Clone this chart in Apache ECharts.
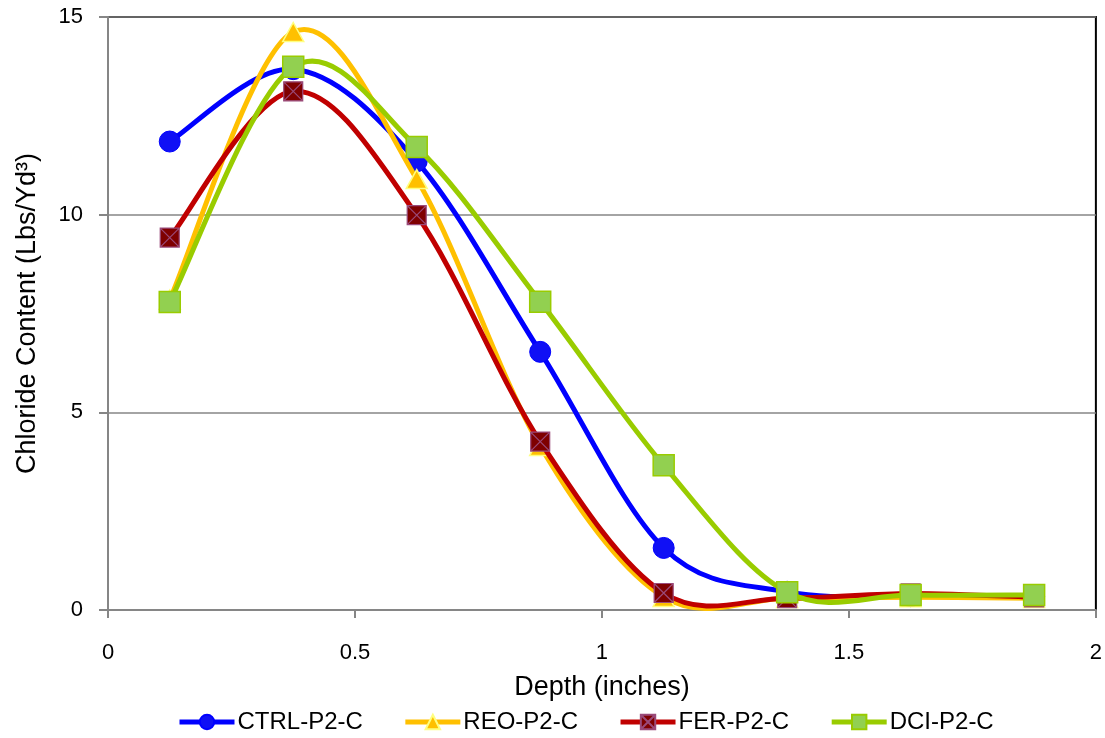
<!DOCTYPE html>
<html>
<head>
<meta charset="utf-8">
<script src="https://cdn.jsdelivr.net/npm/echarts@6/dist/echarts.min.js"></script>
<style>html,body{margin:0;padding:0;background:#fff;}#c{width:1105px;height:738px;}</style>
</head>
<body>
<div id="c"></div>
<script>
const depths = [0.125, 0.375, 0.625, 0.875, 1.125, 1.375, 1.625, 1.875];
const ctrl = [11.85, 13.68, 11.35, 6.53, 1.57, 0.46, 0.35, 0.35];
const reo  = [7.85, 14.62, 10.9, 4.15, 0.33, 0.3, 0.32, 0.3];
const fer  = [9.42, 13.12, 9.99, 4.26, 0.43, 0.3, 0.42, 0.32];
const dci  = [7.79, 13.74, 11.71, 7.8, 3.66, 0.45, 0.38, 0.38];
const seriesNames = ['CTRL-P2-C', 'REO-P2-C', 'FER-P2-C', 'DCI-P2-C'];
const xTicks = [0, 0.5, 1, 1.5, 2];
const yTicks = [0, 5, 10, 15];

function pts(vals){ return depths.map((d,i)=>[d, vals[i]]); }

// Smooth curve (Catmull-Rom style bezier, like spreadsheet "smoothed line"), computed in pixel space
function curveSeries(name, vals, color, z){
  return {
    type:'custom', name: name + ' curve', z: z, silent: true,
    coordinateSystem:'cartesian2d', data: [[depths[0], vals[0]]],
    clip: false,
    renderItem: function(params, api){
      const p = depths.map((d,i)=>api.coord([d, vals[i]]));
      const n = p.length;
      let d = 'M' + p[0][0] + ',' + p[0][1];
      for (let i = 0; i < n - 1; i++){
        const p0 = p[i-1] || p[i], p1 = p[i], p2 = p[i+1], p3 = p[i+2] || p[i+1];
        const c1x = p1[0] + (p2[0]-p0[0])/6, c1y = p1[1] + (p2[1]-p0[1])/6;
        const c2x = p2[0] - (p3[0]-p1[0])/6, c2y = p2[1] - (p3[1]-p1[1])/6;
        d += ' C' + c1x + ',' + c1y + ' ' + c2x + ',' + c2y + ' ' + p2[0] + ',' + p2[1];
      }
      return {type:'path', shape:{pathData:d}, style:{stroke:color, lineWidth:5, fill:null, lineJoin:'round', lineCap:'round'}};
    }
  };
}

const colors = {ctrl:'#0000FF', reo:'#FFC000', fer:'#C00000', dci:'#99CC00'};

const chart = echarts.init(document.getElementById('c'), null, {renderer:'canvas'});
chart.setOption({
  animation: false,
  backgroundColor: '#fff',
  grid: {left:108, right:9, top:17, bottom:128, show:true, borderColor:'#000', borderWidth:2, backgroundColor:'transparent'},
  legend: {
    top: 705, left: 172, itemWidth: 55, itemHeight: 18, itemGap: 40,
    lineStyle: {width: 5, opacity: 1},
    textStyle: {fontFamily:'Liberation Sans, Arial', fontSize:24, color:'#000', padding:[0,0,0,-2]},
    data: seriesNames
  },
  xAxis: {
    type:'value', min:0, max:2, interval:0.5,
    name:'Depth (inches)', nameLocation:'middle', nameGap:64,
    nameTextStyle:{fontFamily:'Liberation Sans, Arial', fontSize:27, color:'#000'},
    axisLine:{lineStyle:{color:'#868686', width:2}},
    axisTick:{show:true, inside:false, length:8, lineStyle:{color:'#868686', width:2}},
    axisLabel:{fontFamily:'Liberation Sans, Arial', fontSize:22, color:'#000', margin:32,
      formatter: v => xTicks.includes(v) ? String(v) : ''},
    splitLine:{show:false}
  },
  yAxis: {
    type:'value', min:0, max:15, interval:5,
    name:'Chloride Content (Lbs/Yd\u00B3)', nameLocation:'middle', nameGap:67,
    nameTextStyle:{fontFamily:'Liberation Sans, Arial', fontSize:27, color:'#000'},
    axisLine:{show:true, lineStyle:{color:'#868686', width:2}},
    axisTick:{show:true, inside:false, length:9, lineStyle:{color:'#868686', width:2}},
    axisLabel:{fontFamily:'Liberation Sans, Arial', fontSize:22, color:'#000', margin:25,
      formatter: v => yTicks.includes(v) ? String(v) : ''},
    splitLine:{show:true, lineStyle:{color:'#868686', width:1.5}}
  },
  series: [
    {name:seriesNames[0], type:'line', data:pts(ctrl), z:2,
     symbol:'circle', symbolSize:21,
     lineStyle:{color:colors.ctrl, width:5, opacity:0},
     itemStyle:{color:'#1010F5', borderColor:'#0000FF', borderWidth:1}},
    {name:seriesNames[1], type:'line', data:pts(reo), z:4,
     symbol:'triangle', symbolSize:[21,19],
     lineStyle:{color:colors.reo, width:5, opacity:0},
     itemStyle:{color:'#FFC000', borderColor:'#FFFF80', borderWidth:1.5}},
    {name:seriesNames[2], type:'line', data:pts(fer), z:6,
     symbol:'path://M0,0 L10,0 L10,10 L0,10 Z M0,0 L10,10 M10,0 L0,10', symbolSize:19,
     lineStyle:{color:colors.fer, width:5, opacity:0},
     itemStyle:{color:'#7F0000', borderColor:'#9A4A7A', borderWidth:1.2}},
    {name:seriesNames[3], type:'line', data:pts(dci), z:8,
     symbol:'rect', symbolSize:21,
     lineStyle:{color:colors.dci, width:5, opacity:0},
     itemStyle:{color:'#92D050', borderColor:'#99CC00', borderWidth:1.5}},
    curveSeries(seriesNames[0], ctrl, colors.ctrl, 1),
    curveSeries(seriesNames[1], reo, colors.reo, 3),
    curveSeries(seriesNames[2], fer, colors.fer, 5),
    curveSeries(seriesNames[3], dci, colors.dci, 7)
  ]
});
</script>
</body>
</html>
